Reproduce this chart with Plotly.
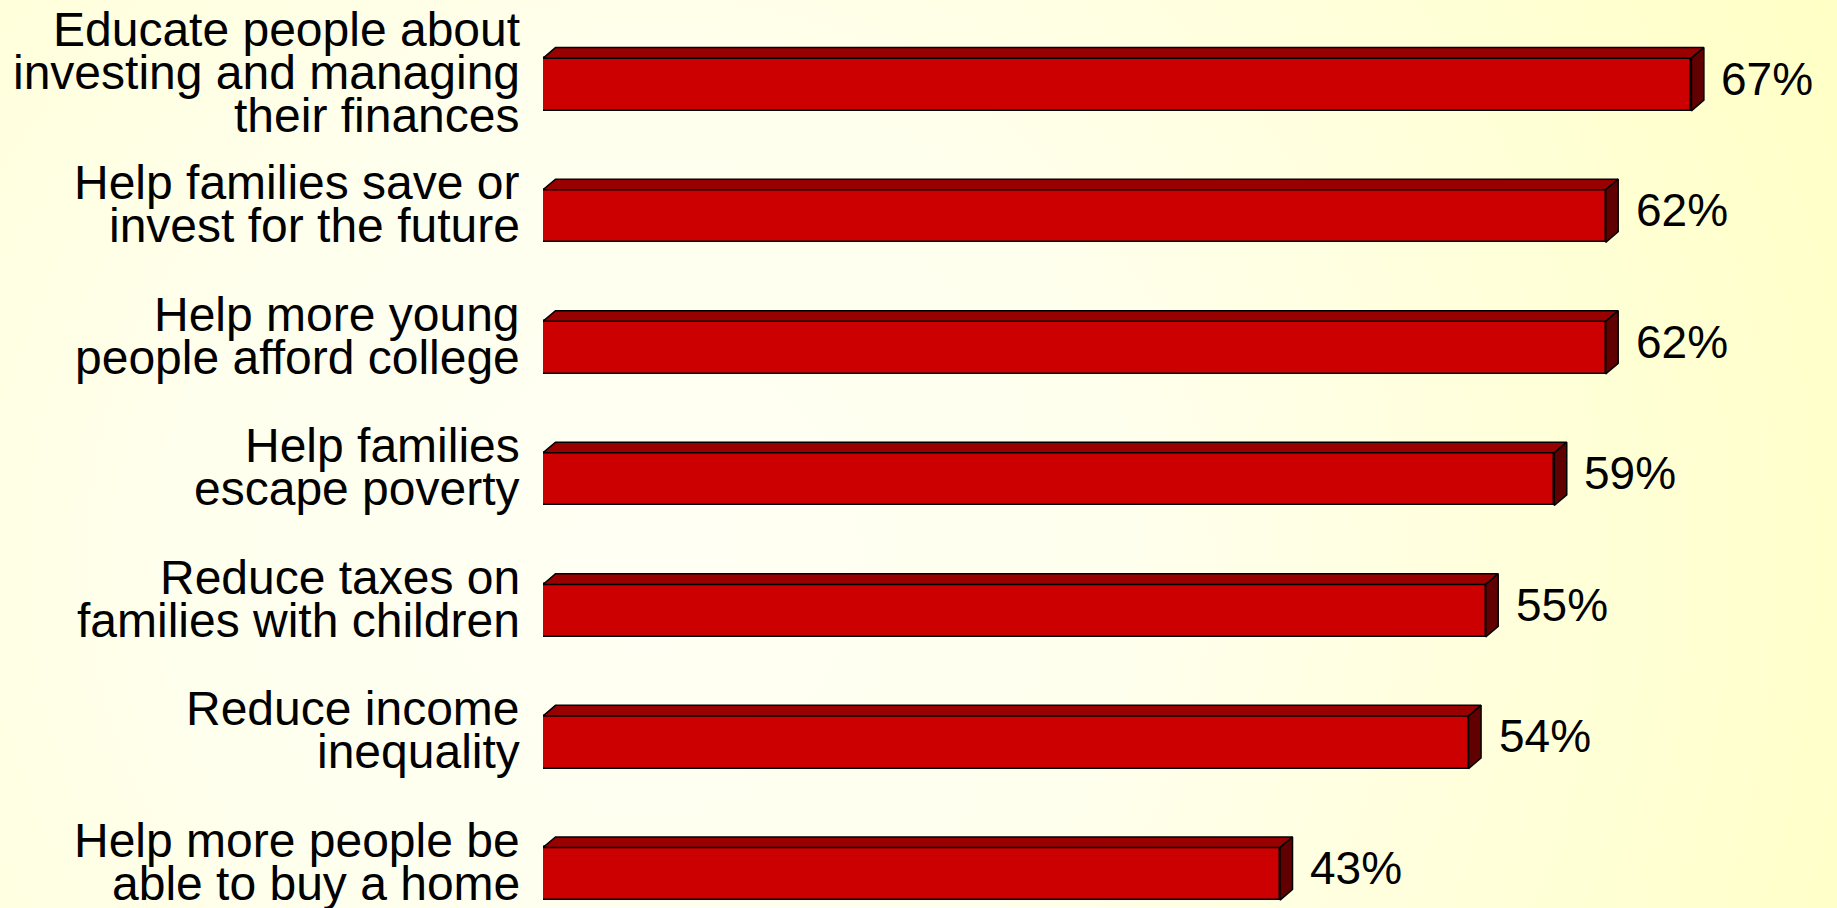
import base64
import plotly.graph_objects as go

# Survey items (top to bottom) and the share of respondents choosing each
categories = [
    "Educate people about\ninvesting and managing\ntheir finances",
    "Help families save or\ninvest for the future",
    "Help more young\npeople afford college",
    "Help families\nescape poverty",
    "Reduce taxes on\nfamilies with children",
    "Reduce income\ninequality",
    "Help more people be\nable to buy a home",
]
values = [67, 62, 62, 59, 55, 54, 43]
value_labels = ["67%", "62%", "62%", "59%", "55%", "54%", "43%"]

# Page geometry and styling
W, H = 1837, 908
FONT = "Liberation Sans, Arial, Helvetica, sans-serif"
FRONT, TOP, SIDE, EDGE = "#CC0000", "#990000", "#600000", "#000000"

PX_PER_UNIT = 17.14          # horizontal scale, pixels per percentage point
X0_PX = 543                  # left edge of the bars
PITCH = 131.55               # vertical distance between bars, pixels
FIRST_CENTER = 84.5          # centre of the first bar's front face, pixels
BAR_W = 0.4                  # bar thickness in category units
DEPTH_X = 12.5 / PX_PER_UNIT # 3-D depth offset in data units
DEPTH_Y = 10.6 / PITCH

x_max = (W - X0_PX) / PX_PER_UNIT
y_top = -FIRST_CENTER / PITCH
y_bottom = (H - FIRST_CENTER) / PITCH
ypos = list(range(len(categories)))

fig = go.Figure()

# front faces
fig.add_bar(
    x=values, y=ypos, orientation="h", width=BAR_W,
    marker=dict(color=FRONT, line=dict(color=EDGE, width=1.5)),
    hoverinfo="skip", showlegend=False,
)

# top and end faces giving the extruded look
for k, v in zip(ypos, values):
    top = k - BAR_W / 2
    bot = k + BAR_W / 2
    fig.add_scatter(
        x=[0, v, v + DEPTH_X, DEPTH_X, 0],
        y=[top, top, top - DEPTH_Y, top - DEPTH_Y, top],
        mode="lines", fill="toself", fillcolor=TOP,
        line=dict(color=EDGE, width=1.5), hoverinfo="skip", showlegend=False,
    )
    fig.add_scatter(
        x=[v, v + DEPTH_X, v + DEPTH_X, v, v],
        y=[top, top - DEPTH_Y, bot - DEPTH_Y, bot, top],
        mode="lines", fill="toself", fillcolor=SIDE,
        line=dict(color=EDGE, width=1.5), hoverinfo="skip", showlegend=False,
    )

annotations = []
LINE_PITCH = 42.8
LABEL_RAISE = 12
for k, cat in zip(ypos, categories):
    lines = cat.split("\n")
    n = len(lines)
    for i, line in enumerate(lines):
        down = (i - (n - 1) / 2) * LINE_PITCH - LABEL_RAISE
        annotations.append(dict(
            text=line, x=522 / W, xref="paper", xanchor="right",
            y=k, yref="y", yanchor="middle", yshift=-down,
            showarrow=False, font=dict(family=FONT, size=48, color="#000000"),
        ))

for k, v, lab in zip(ypos, values, value_labels):
    annotations.append(dict(
        text=lab, x=v, xref="x", xanchor="left", xshift=28,
        y=k, yref="y", yanchor="middle", yshift=6,
        showarrow=False, font=dict(family=FONT, size=46, color="#000000"),
    ))

# soft yellow radial wash behind everything
svg = f"""<svg xmlns='http://www.w3.org/2000/svg' width='{W}' height='{H}' viewBox='0 0 {W} {H}' preserveAspectRatio='none'>
<defs><radialGradient id='g' gradientUnits='userSpaceOnUse' cx='650' cy='560' r='1350'>
<stop offset='0' stop-color='#FFFFF4'/><stop offset='0.35' stop-color='#FFFFEE'/><stop offset='1' stop-color='#FFFFC4'/>
</radialGradient></defs><rect width='{W}' height='{H}' fill='url(#g)'/></svg>"""
bg_src = "data:image/svg+xml;base64," + base64.b64encode(svg.encode()).decode()

fig.update_layout(
    width=W, height=H,
    margin=dict(l=0, r=0, t=0, b=0),
    paper_bgcolor="#FFFFEC",
    plot_bgcolor="rgba(0,0,0,0)",
    xaxis=dict(range=[0, x_max], domain=[X0_PX / W, 1], visible=False, fixedrange=True),
    yaxis=dict(range=[y_bottom, y_top], domain=[0, 1], visible=False, fixedrange=True),
    annotations=annotations,
    images=[dict(source=bg_src, xref="paper", yref="paper", x=0, y=1,
                 sizex=1, sizey=1, sizing="stretch", layer="below",
                 xanchor="left", yanchor="top")],
    bargap=0,
    showlegend=False,
)

fig.write_html("out.html", config={"displayModeBar": False})
